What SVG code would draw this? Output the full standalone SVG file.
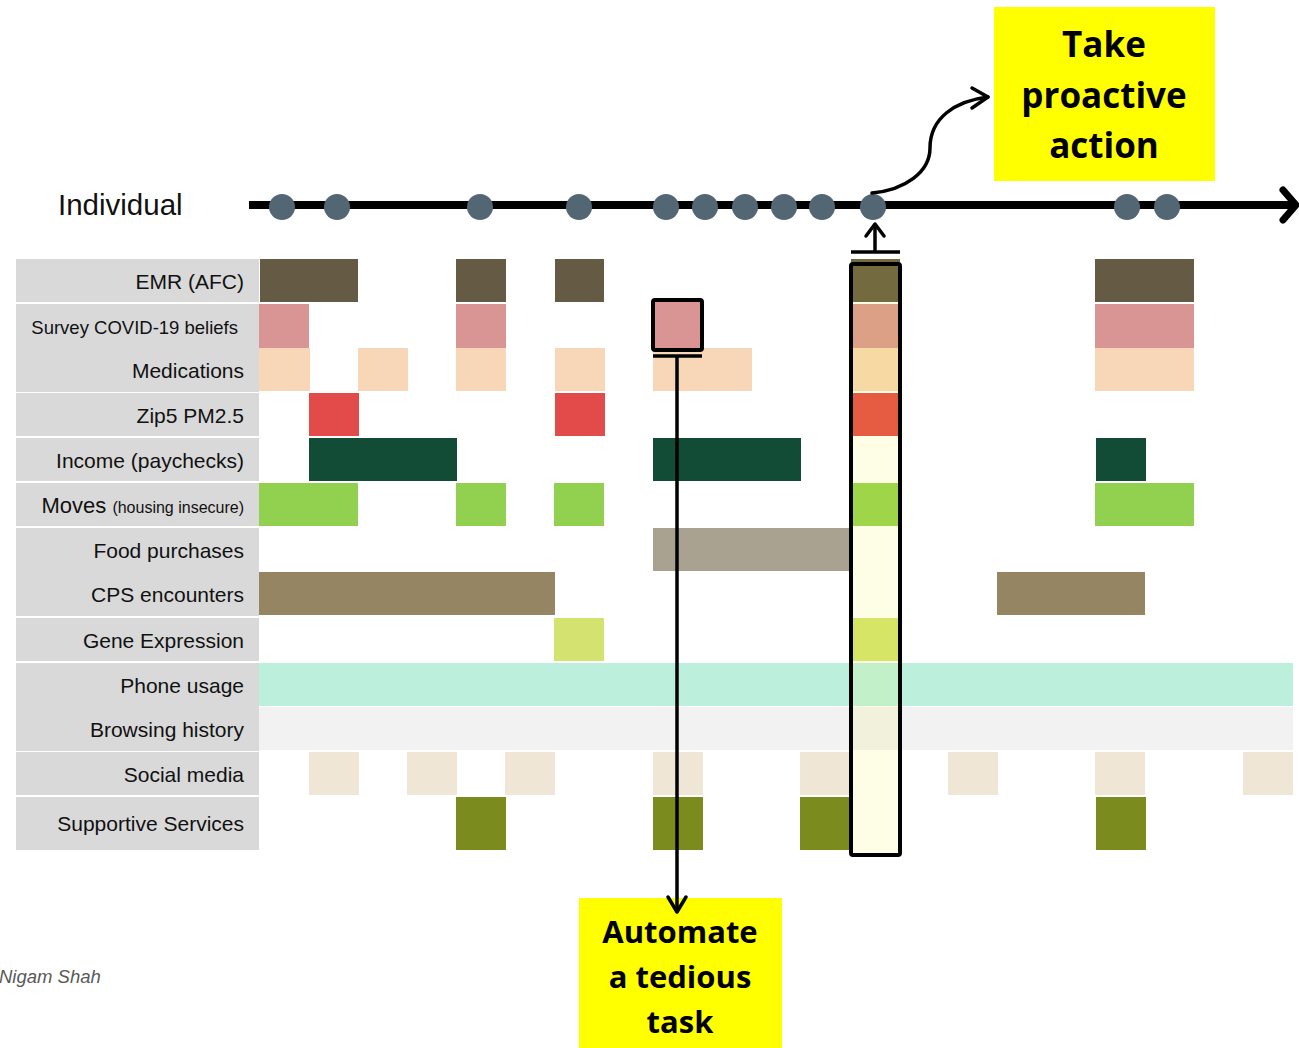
<svg xmlns="http://www.w3.org/2000/svg" width="1299" height="1048" viewBox="0 0 1299 1048">
<style>
.lbl{font-family:"Liberation Sans","Noto Sans",sans-serif;font-size:21px;fill:#111;text-anchor:end}
.lblbg{fill:#d9d9d9}
.callout{font-family:"Open Sans","Noto Sans",sans-serif;font-weight:bold;fill:#000;text-anchor:middle}
.dot{fill:#536674}
.ln{fill:none;stroke:#000;stroke-linecap:round;stroke-linejoin:round}
</style>
<rect width="1299" height="1048" fill="#fff"/>

<!-- label column backgrounds -->
<g id="labels">
<rect class="lblbg" x="16" y="259" width="243" height="43"/>
<rect class="lblbg" x="16" y="304" width="243" height="88"/>
<rect class="lblbg" x="16" y="393" width="243" height="43"/>
<rect class="lblbg" x="16" y="438" width="243" height="43"/>
<rect class="lblbg" x="16" y="483" width="243" height="43"/>
<rect class="lblbg" x="16" y="528" width="243" height="88"/>
<rect class="lblbg" x="16" y="618" width="243" height="43"/>
<rect class="lblbg" x="16" y="663" width="243" height="88"/>
<rect class="lblbg" x="16" y="752" width="243" height="43"/>
<rect class="lblbg" x="16" y="797" width="243" height="53"/>
<text class="lbl" x="244" y="289">EMR (AFC)</text>
<text class="lbl" x="238" y="334" style="font-size:18.5px">Survey COVID-19 beliefs</text>
<text class="lbl" x="244" y="378">Medications</text>
<text class="lbl" x="244" y="423">Zip5 PM2.5</text>
<text class="lbl" x="244" y="468">Income (paychecks)</text>
<text class="lbl" x="244" y="513"><tspan style="font-size:22px">Moves </tspan><tspan style="font-size:16px">(housing insecure)</tspan></text>
<text class="lbl" x="244" y="558">Food purchases</text>
<text class="lbl" x="244" y="602">CPS encounters</text>
<text class="lbl" x="244" y="648">Gene Expression</text>
<text class="lbl" x="244" y="693">Phone usage</text>
<text class="lbl" x="244" y="737">Browsing history</text>
<text class="lbl" x="244" y="782">Social media</text>
<text class="lbl" x="244" y="831">Supportive Services</text>
</g>

<!-- data cells -->
<g id="cells">
<!-- EMR -->
<g fill="#655a43">
<rect x="260" y="259" width="98" height="43"/>
<rect x="456" y="259" width="50" height="43"/>
<rect x="555" y="259" width="49" height="43"/>
<rect x="1095" y="259" width="99" height="43"/>
</g>
<!-- Survey -->
<g fill="#d99594">
<rect x="259" y="304" width="50" height="44"/>
<rect x="456" y="304" width="50" height="44"/>
<rect x="1095" y="304" width="99" height="44"/>
</g>
<!-- Medications -->
<g fill="#f7d7b8">
<rect x="259" y="348" width="51" height="43"/>
<rect x="358" y="348" width="50" height="43"/>
<rect x="456" y="348" width="50" height="43"/>
<rect x="555" y="348" width="50" height="43"/>
<rect x="653" y="348" width="99" height="43"/>
<rect x="1095" y="348" width="99" height="43"/>
</g>
<!-- Zip5 -->
<g fill="#e34a4a">
<rect x="309" y="393" width="50" height="43"/>
<rect x="555" y="393" width="50" height="43"/>
</g>
<!-- Income -->
<g fill="#124b36">
<rect x="309" y="438" width="148" height="43"/>
<rect x="653" y="438" width="148" height="43"/>
<rect x="1096" y="438" width="50" height="43"/>
</g>
<!-- Moves -->
<g fill="#92d050">
<rect x="259" y="483" width="99" height="43"/>
<rect x="456" y="483" width="50" height="43"/>
<rect x="554" y="483" width="50" height="43"/>
<rect x="1095" y="483" width="99" height="43"/>
</g>
<!-- Food -->
<rect x="653" y="528" width="198" height="43" fill="#aaa291"/>
<!-- CPS -->
<g fill="#958563">
<rect x="259" y="572" width="296" height="43"/>
<rect x="997" y="572" width="148" height="43"/>
</g>
<!-- Gene -->
<rect x="554" y="618" width="50" height="43" fill="#d4e36f"/>
<!-- Phone -->
<rect x="259" y="663" width="1034" height="43" fill="#bcf0dc"/>
<!-- Browsing -->
<rect x="259" y="707" width="1034" height="43" fill="#f2f2f2"/>
<!-- Social -->
<g fill="#f0e6d5">
<rect x="309" y="752" width="50" height="43"/>
<rect x="407" y="752" width="50" height="43"/>
<rect x="505" y="752" width="50" height="43"/>
<rect x="653" y="752" width="50" height="43"/>
<rect x="800" y="752" width="50" height="43"/>
<rect x="948" y="752" width="50" height="43"/>
<rect x="1095" y="752" width="50" height="43"/>
<rect x="1243" y="752" width="50" height="43"/>
</g>
<!-- Supportive -->
<g fill="#7b8b1e">
<rect x="456" y="797" width="50" height="53"/>
<rect x="653" y="797" width="50" height="53"/>
<rect x="800" y="797" width="50" height="53"/>
<rect x="1096" y="797" width="50" height="53"/>
</g>
</g>

<!-- highlighted column -->
<g id="snapshot-column">
<rect x="851" y="259" width="49" height="596" fill="#fefee6"/>
<rect x="851" y="259" width="49" height="43" fill="#736b3f"/>
<rect x="851" y="304" width="49" height="44" fill="#dca086"/>
<rect x="851" y="348" width="49" height="43" fill="#f7d9a4"/>
<rect x="851" y="393" width="49" height="43" fill="#e55c43"/>
<rect x="851" y="483" width="49" height="43" fill="#9fd549"/>
<rect x="851" y="618" width="49" height="43" fill="#d7e566"/>
<rect x="851" y="663" width="49" height="43" fill="#c2f0c8"/>
<rect x="851" y="707" width="49" height="43" fill="#f2f2dc"/>
<rect x="851" y="264" width="49" height="591" rx="2" fill="none" stroke="#000" stroke-width="4"/>
</g>

<!-- highlighted survey cell -->
<g id="survey-cell">
<rect x="653" y="300" width="49" height="50" rx="2" fill="#d99594" stroke="#000" stroke-width="4"/>
</g>

<!-- timeline -->
<g id="timeline">
<text x="58" y="215" style="font-family:'Liberation Sans','Noto Sans',sans-serif;font-size:29.5px;fill:#111">Individual</text>
<line x1="249" y1="205" x2="1293" y2="205" stroke="#000" stroke-width="8"/>
<polyline class="ln" points="1283,190 1296,205 1283,220" stroke-width="7"/>
<circle class="dot" cx="282" cy="207" r="13"/>
<circle class="dot" cx="337" cy="207" r="13"/>
<circle class="dot" cx="480" cy="207" r="13"/>
<circle class="dot" cx="579" cy="207" r="13"/>
<circle class="dot" cx="666" cy="207" r="13"/>
<circle class="dot" cx="705" cy="207" r="13"/>
<circle class="dot" cx="745" cy="207" r="13"/>
<circle class="dot" cx="784" cy="207" r="13"/>
<circle class="dot" cx="822" cy="207" r="13"/>
<circle class="dot" cx="873" cy="207" r="13"/>
<circle class="dot" cx="1127" cy="207" r="13"/>
<circle class="dot" cx="1167" cy="207" r="13"/>
</g>

<!-- callouts -->
<g id="take-action">
<rect x="994" y="7" width="221" height="174" fill="#ffff00"/>
<text class="callout" x="1104" y="57" style="font-size:35px">Take</text>
<text class="callout" x="1104" y="108" style="font-size:35px">proactive</text>
<text class="callout" x="1104" y="158" style="font-size:35px">action</text>
</g>
<g id="automate">
<rect x="579" y="898" width="203" height="150" fill="#ffff00"/>
<text class="callout" x="680" y="943" style="font-size:31px">Automate</text>
<text class="callout" x="680" y="988" style="font-size:31px">a tedious</text>
<text class="callout" x="680" y="1033" style="font-size:31px">task</text>
</g>

<!-- connectors -->
<g id="connectors">
<path class="ln" d="M872,193 C905,190 930,172 930,148 C930,118 955,101 988,97" stroke-width="3.5"/>
<polyline class="ln" points="972,88 988,97 972,108" stroke-width="3.5"/>
<line x1="851" y1="252" x2="900" y2="252" stroke="#000" stroke-width="3.5"/>
<line x1="875" y1="252" x2="875" y2="225" stroke="#000" stroke-width="3.5"/>
<polyline class="ln" points="866,236 875,224 884,236" stroke-width="3.5"/>
<line x1="653" y1="356" x2="702" y2="356" stroke="#000" stroke-width="3.5"/>
<line x1="677" y1="356" x2="677" y2="912" stroke="#000" stroke-width="3.5"/>
<polyline class="ln" points="668,897 677,912 686,897" stroke-width="3.5"/>
</g>

<text x="-1" y="983" style="font-family:'Liberation Sans','Noto Sans',sans-serif;font-size:18.5px;font-style:italic;fill:#595959">Nigam Shah</text>
</svg>
